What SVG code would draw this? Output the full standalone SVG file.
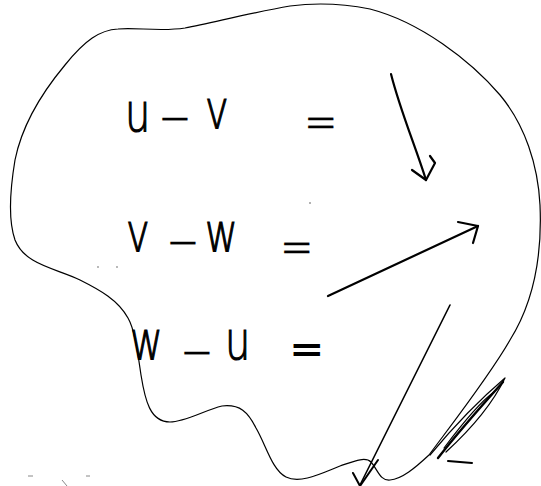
<svg xmlns="http://www.w3.org/2000/svg" width="541" height="486" viewBox="0 0 541 486">
<style>
.ink{fill:none;stroke:#000;stroke-linecap:round;stroke-linejoin:round}
.thin{stroke-width:1.2}
.arr{stroke-width:2.2}
.hw{font-family:"DejaVu Sans",sans-serif;font-weight:300;font-size:40px;fill:#000;stroke:#000;stroke-width:0.9}
.op{stroke-width:0.2}
.speck{fill:#999}
</style>
<rect width="541" height="486" fill="#fff"/>
<g id="blob">
<path class="ink thin" d="M118,29 C135,27 160,32 185,28 C215,22 255,12 290,6 C320,2 345,4 370,9 C420,22 470,60 500,95 C525,125 538,165 540,205 C542,250 535,300 510,340 C490,375 455,420 429,455 C415,468 402,479 390,480 C380,481 378,470 371,462 C365,456 352,462 340,466 C320,474 300,484 286,477 C272,470 266,445 256,428 C248,412 240,404 222,406 C205,410 185,422 170,422 C150,422 145,400 141,375 C138,355 135,330 128,318 C118,300 100,290 80,280 C55,268 25,265 15,240 C8,220 10,190 15,160 C22,125 40,95 65,65 C85,40 100,30 118,29 Z"/>
<path class="ink thin" d="M430,455 C455,425 485,395 505,378 C492,405 470,430 446,452"/>
<path class="ink thin" d="M444,448 C462,424 480,402 494,392"/>
<path class="ink" stroke-width="2.4" d="M438,458 C460,430 485,402 503,382"/>
<path class="ink" stroke-width="2" d="M448,461 L472,463"/>
</g>
<g id="row1">
<text class="hw" transform="translate(0,131) scale(1,1.35)"><tspan x="125" y="0">u</tspan><tspan class="op" x="158" y="4">−</tspan><tspan x="205" y="-2">v</tspan><tspan class="op" x="304" y="7">=</tspan></text>
</g>
<g id="row2">
<text class="hw" transform="translate(0,251) scale(1,1.35)"><tspan x="126" y="0">v</tspan><tspan class="op" x="166" y="7">−</tspan><tspan x="205" y="0">w</tspan><tspan class="op" x="280" y="10">=</tspan></text>
</g>
<g id="row3">
<text class="hw" transform="translate(0,359) scale(1,1.35)"><tspan x="130" y="0">w</tspan><tspan class="op" x="180" y="8">−</tspan><tspan x="225" y="0">u</tspan><tspan x="290" y="6" stroke-width="1.4">=</tspan></text>
</g>
<g id="connectors">
<path class="ink arr" d="M391,74 C400,110 415,145 426,180"/>
<path class="ink arr" d="M412,170 L426,180 L435,163 L430,156"/>
<path class="ink arr" d="M328,296 L478,226"/>
<path class="ink arr" d="M458,222 L478,226 L473,243"/>
<path class="ink" stroke-width="1.6" d="M450,305 Q405,395 360,485"/>
<path class="ink" stroke-width="2" d="M353,473 L360,486 L378,460"/>
</g>
<g id="specks">
<circle class="speck" cx="310" cy="203" r="1"/>
<circle class="speck" cx="98" cy="267" r="0.9"/>
<circle class="speck" cx="117" cy="267" r="0.9"/>
<path d="M28,476 L33,476 M86,476 L90,476 M62,480 L67,486" stroke="#888" stroke-width="1" fill="none"/>
</g>
</svg>
